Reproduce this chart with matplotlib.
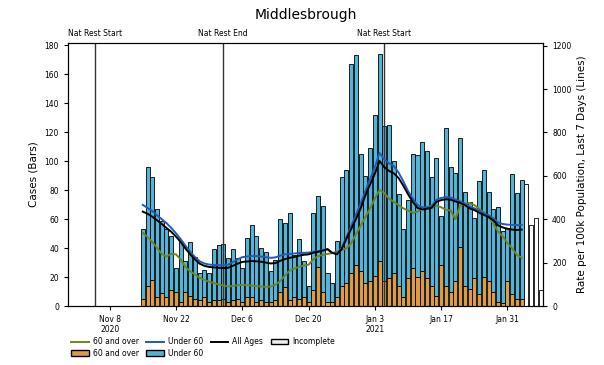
import numpy as np
import pandas as pd
import matplotlib
matplotlib.use('Agg')
from matplotlib import pyplot as plt
from matplotlib.patches import Patch
from matplotlib.lines import Line2D

# daily cases, 15 Nov 2020 onwards (bars, left axis)
start_date = '2020-11-15'
over60_cases = [5, 14, 18, 6, 9, 6, 11, 10, 3, 10, 7, 5, 4, 6, 3, 4, 4, 5, 3, 4,
                5, 3, 6, 6, 3, 4, 3, 3, 4, 10, 13, 4, 6, 5, 6, 3, 11, 27, 10, 3,
                3, 6, 14, 16, 23, 28, 24, 16, 17, 21, 31, 17, 19, 23, 14, 6, 19, 26, 20, 24,
                19, 14, 7, 28, 14, 10, 17, 41, 14, 12, 19, 8, 20, 17, 10, 3, 2, 17, 8, 5,
                5]
under60_cases = [48, 82, 71, 61, 50, 47, 37, 16, 41, 21, 37, 29, 19, 19, 20, 35, 38, 38, 30, 35,
                 28, 23, 41, 50, 45, 36, 34, 21, 28, 50, 44, 60, 29, 41, 25, 11, 53, 49, 59, 20,
                 13, 39, 75, 78, 144, 145, 81, 74, 92, 111, 143, 107, 106, 77, 63, 47, 54, 79, 84, 89,
                 88, 75, 95, 34, 109, 86, 75, 75, 65, 60, 42, 78, 74, 62, 57, 65, 50, 37, 83, 73,
                 82]
incomplete_cases = [84, 56, 61, 11]

# 7 day rate per 100k (lines, right axis)
rate_over60 = [337, 318, 295, 268, 240, 228, 240, 238, 215, 180, 160, 145, 130, 120, 112, 106, 100, 95, 90, 92,
               96, 97, 96, 94, 92, 90, 88, 90, 98, 115, 140, 163, 172, 181, 186, 190, 215, 230, 235, 240,
               244, 250, 258, 265, 290, 330, 370, 410, 450, 495, 535, 520, 495, 480, 465, 450, 440, 430, 435, 448,
               455, 462, 462, 455, 443, 440, 400, 462, 470, 475, 465, 448, 430, 412, 380, 343, 320, 290, 265, 235,
               222]
rate_under60 = [466, 452, 438, 418, 400, 382, 360, 335, 308, 278, 250, 226, 206, 196, 191, 189, 188, 188, 190, 202,
                215, 225, 228, 230, 230, 228, 225, 222, 224, 232, 238, 240, 242, 244, 245, 246, 250, 252, 258, 262,
                245, 242, 268, 318, 368, 420, 472, 530, 585, 640, 706, 675, 658, 645, 615, 575, 530, 495, 465, 455,
                455, 460, 490, 498, 502, 500, 490, 482, 472, 458, 450, 440, 428, 418, 405, 385, 378, 375, 374, 373,
                374]
rate_all = [435, 425, 412, 395, 378, 360, 342, 320, 295, 265, 238, 215, 195, 185, 180, 178, 176, 175, 176, 185,
            195, 203, 205, 207, 206, 204, 200, 196, 198, 208, 216, 222, 226, 232, 236, 238, 245, 250, 255, 262,
            245, 238, 262, 310, 355, 400, 450, 510, 560, 610, 668, 640, 622, 612, 590, 555, 515, 480, 452, 445,
            448, 452, 480, 488, 492, 490, 482, 475, 465, 450, 442, 430, 420, 410, 395, 372, 362, 356, 352, 350,
            352]

restrictions = [('2020-11-05', 'Nat Rest Start'),
                ('2020-12-02', 'Nat Rest End'),
                ('2021-01-05', 'Nat Rest Start')]

tick_dates = ['2020-11-08', '2020-11-22', '2020-12-06', '2020-12-20',
              '2021-01-03', '2021-01-17', '2021-01-31']
tick_labels = ['Nov 8\n2020', 'Nov 22', 'Dec 6', 'Dec 20', 'Jan 3\n2021', 'Jan 17', 'Jan 31']

col_under60 = '#55b3d6'
col_over60 = '#dc9c45'
col_line_over60 = '#6f8424'
col_line_under60 = '#1d5cb8'

days = pd.date_range(start_date, periods=len(over60_cases), freq='D')
inc_days = pd.date_range(days[-1] + pd.Timedelta(days=1), periods=len(incomplete_cases), freq='D')

fig = plt.figure(figsize=(6.04, 3.65), dpi=100)
ax = fig.add_axes([68 / 604, 1 - 306 / 365, 475 / 604, 263 / 365])

ax.bar(days, over60_cases, width=0.85, color=col_over60, edgecolor='black', linewidth=0.6)
ax.bar(days, under60_cases, width=0.85, bottom=over60_cases, color=col_under60,
       edgecolor='black', linewidth=0.6)
ax.bar(inc_days, incomplete_cases, width=0.85, color='white', edgecolor='black', linewidth=0.6)

for d, label in restrictions:
    d = pd.Timestamp(d)
    ax.axvline(d, color='#333333', linewidth=1)
    ax.text(d, 1.02, label, transform=ax.get_xaxis_transform(), ha='center', va='bottom', fontsize=5.5)

ax.set_xlim(pd.Timestamp('2020-10-30 05:00'), inc_days[-1] + pd.Timedelta(hours=12))
ax.set_ylim(0, 181.5)
ax.set_yticks(np.arange(0, 181, 20))
ax.set_xticks([pd.Timestamp(d) for d in tick_dates])
ax.set_xticklabels(tick_labels)
ax.tick_params(labelsize=5.5, length=3)
ax.set_ylabel('Cases (Bars)', fontsize=7.5)
ax.set_title('Middlesbrough', fontsize=10, pad=17)

ax2 = ax.twinx()
ax2.plot(days, rate_over60, color=col_line_over60, linewidth=1.4)
ax2.plot(days, rate_under60, color=col_line_under60, linewidth=1.4)
ax2.plot(days, rate_all, color='black', linewidth=1.4)
ax2.set_ylim(0, 1212)
ax2.set_yticks(np.arange(0, 1201, 200))
ax2.tick_params(labelsize=5.5, length=3)
ax2.set_ylabel('Rate per 100k Population, Last 7 Days (Lines)', fontsize=7.5)

handles = [Line2D([], [], color=col_line_over60, linewidth=1.4),
           Patch(facecolor=col_over60, edgecolor='black'),
           Line2D([], [], color=col_line_under60, linewidth=1.4),
           Patch(facecolor=col_under60, edgecolor='black'),
           Line2D([], [], color='black', linewidth=1.4),
           Patch(facecolor='#eeeeee', edgecolor='black')]
labels = ['60 and over', '60 and over', 'Under 60', 'Under 60', 'All Ages', 'Incomplete']
fig.legend(handles, labels, loc='upper left', bbox_to_anchor=(66 / 604, 1 - 332 / 365), ncol=4,
           frameon=False, fontsize=5.5, handlelength=2.3, handletextpad=0.5, columnspacing=1.0,
           labelspacing=0.3, borderpad=0.2)

fig.savefig('out.png', dpi=100)
